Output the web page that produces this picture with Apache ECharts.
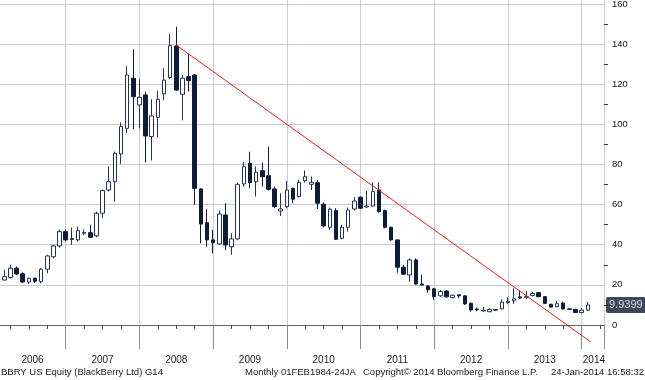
<!DOCTYPE html>
<html>
<head>
<meta charset="utf-8">
<script src="https://cdn.jsdelivr.net/npm/echarts@6/dist/echarts.min.js"></script>
<style>
html,body{margin:0;padding:0;background:#fff;}
#chart{width:645px;height:380px;}
</style>
</head>
<body>
<div id="chart"></div>
<script>
// Monthly candles [open, high, low, close]; 2006 starts in February
const firstYear = 2006;
const firstMonth2006 = 2;
const ohlc2006 = [
  [22.4,27.5,22.2,24.1],[23.6,30.0,23.2,28.3],[28.3,29.2,25.0,25.4],[25.5,26.3,21.0,21.4],
  [21.4,23.5,20.4,23.3],[23.3,23.5,21.0,21.8],[21.6,28.3,20.7,27.8],[27.8,35.0,25.8,34.4],
  [34.0,40.0,33.2,39.4],[39.4,47.5,38.5,46.5],[46.5,47.5,41.5,42.4]
];
const ohlc2007 = [
  [42.6,48.5,40.0,43.1],[42.4,49.0,41.5,47.0],[45.7,47.7,44.9,46.1],[46.0,50.0,43.4,43.7],
  [44.4,56.5,43.7,55.7],[55.7,67.5,53.2,67.0],[67.3,79.0,66.5,71.4],[71.4,86.4,61.5,85.6],
  [85.2,101.0,80.3,98.9],[98.0,129.0,95.6,124.6],[123.0,137.4,97.6,113.8],[109.7,122.5,98.0,113.5]
];
const ohlc2008 = [
  [114.7,116.3,81.0,94.2],[93.9,112.5,82.0,104.2],[103.5,116.8,93.6,112.5],[115.2,128.0,112.0,122.1],
  [123.3,145.0,122.5,139.2],[139.1,148.7,116.8,117.1],[115.0,124.6,102.0,123.0],[123.8,135.4,116.3,121.8],
  [124.6,125.1,59.8,68.1],[67.8,68.2,40.7,50.3],[51.0,57.7,39.0,42.4],[42.4,47.4,35.7,41.0]
];
const ohlc2009 = [
  [40.4,57.0,39.9,55.3],[54.8,60.7,37.4,39.9],[39.0,45.7,35.0,42.9],[42.9,71.0,42.4,70.1],
  [70.3,81.4,68.9,78.9],[80.6,86.4,68.1,71.0],[71.4,79.0,64.0,76.1],[76.9,81.0,69.0,73.9],
  [74.4,88.9,67.0,67.6],[67.8,68.9,58.2,59.0],[56.8,65.7,54.3,57.8],[59.0,71.8,58.2,67.3]
];
const ohlc2010 = [
  [68.1,68.5,60.7,62.7],[64.0,72.3,63.5,71.1],[71.9,77.0,71.0,73.9],[70.1,74.0,67.3,71.1],
  [70.9,72.3,57.8,60.7],[60.2,61.0,48.7,49.4],[48.7,58.5,47.4,57.7],[57.0,58.2,42.5,42.7],
  [43.2,50.0,42.7,48.7],[48.7,58.5,46.5,57.3],[57.8,63.7,57.0,61.8],[63.7,64.0,57.8,58.2]
];
const ohlc2011 = [
  [58.8,66.8,58.5,59.3],[59.3,71.0,59.0,66.5],[67.3,71.0,56.0,56.5],[57.0,57.5,48.2,48.7],
  [48.7,49.0,42.0,42.4],[42.4,42.7,26.0,28.8],[28.8,30.0,25.0,25.3],[24.9,33.2,21.6,32.4],
  [32.4,33.2,20.0,20.4],[20.4,25.0,19.6,19.9],[19.4,19.8,16.1,17.5],[18.0,18.5,12.5,14.1]
];
const ohlc2012 = [
  [14.5,17.4,14.0,16.6],[16.9,17.4,13.6,14.0],[13.6,15.1,13.3,14.8],[15.0,15.2,13.3,14.5],
  [14.5,14.8,10.0,10.5],[10.8,11.2,6.6,7.5],[7.9,8.8,6.8,7.6],[7.0,9.0,6.7,7.3],
  [6.6,8.2,6.3,7.7],[7.6,7.9,7.1,7.4],[8.0,12.8,7.8,11.4],[11.2,13.8,10.3,11.9]
];
const ohlc2013 = [
  [12.0,18.3,10.5,13.0],[14.0,17.3,13.0,13.4],[13.6,17.0,13.0,14.1],[14.6,16.6,14.3,15.7],
  [16.1,16.4,13.8,14.1],[14.1,14.3,10.4,10.8],[10.3,10.6,8.6,8.9],[9.1,12.0,8.8,10.6],
  [10.9,11.6,7.7,8.0],[8.0,8.3,7.4,7.8],[7.8,8.0,5.9,6.2],[6.2,8.5,5.8,7.4]
];
const ohlc2014 = [
  [7.4,11.4,7.0,9.9399]
];
const lastPrice = 9.9399;
// trend line endpoints: [month index, price]
const trendLine = [[30, 139.5], [97.5, -8.5]];
const yearLabels = ['2006','2007','2008','2009','2010','2011','2012','2013','2014'];
const yearLabelPos = [6.6, 18, 30, 42, 54, 66, 78, 90, 98];
const yMajorTicks = [0,20,40,60,80,100,120,140,160];
const yMinorTicks = [10,30,50,70,90,110,130,150];
const footer = ['BBRY US Equity (BlackBerry Ltd) G14','Monthly 01FEB1984-24JA','Copyright\u00A9 2014 Bloomberg Finance L.P.','24-Jan-2014 16:58:32'];

const years = [ohlc2006, ohlc2007, ohlc2008, ohlc2009, ohlc2010, ohlc2011, ohlc2012, ohlc2013, ohlc2014];
const candles = [];
years.forEach((arr, yi) => {
  const start = yi === 0 ? firstMonth2006 : 1;
  arr.forEach((d, i) => {
    const x = yi * 12 + start + i; // month index, Jan 2006 = 1
    candles.push([x, d[0], d[3], d[2], d[1]]); // x, open, close, low, high
  });
});

const FONT = 'Liberation Sans, Arial, sans-serif';
const chart = echarts.init(document.getElementById('chart'), null, {renderer: 'canvas'});
const GRID_LINE = {show: true, lineStyle: {color: '#cbcbcb', type: 'solid', width: 1}};

chart.setOption({
  backgroundColor: '#ffffff',
  animation: false,
  grid: {left: -8, right: 41, top: 0, bottom: 38, outerBoundsMode: 'none', containLabel: false},
  title: [
    {text: footer[0], left: 1, top: 367, padding: 0, textStyle: {fontSize: 9.5, fontWeight: 'normal', color: '#1a1a1a', fontFamily: FONT}},
    {text: footer[1], left: 245, top: 367, padding: 0, textStyle: {fontSize: 9.5, fontWeight: 'normal', color: '#1a1a1a', fontFamily: FONT}},
    {text: footer[2], left: 363, top: 367, padding: 0, textStyle: {fontSize: 9.5, fontWeight: 'normal', color: '#1a1a1a', fontFamily: FONT}},
    {text: footer[3], right: 1, top: 367, padding: 0, textStyle: {fontSize: 9.5, fontWeight: 'normal', color: '#1a1a1a', fontFamily: FONT}}
  ],
  xAxis: {
    type: 'value', min: 0, max: 99.64, interval: 12,
    axisLine: {show: true, lineStyle: {color: '#666', width: 1}},
    axisTick: {show: true, length: 24, lineStyle: {color: '#8a8a8a', width: 1}},
    minorTick: {show: true, splitNumber: 4, length: 4, lineStyle: {color: '#444', width: 1}},
    splitLine: GRID_LINE,
    minorSplitLine: {show: false},
    axisLabel: {
      customValues: yearLabelPos,
      margin: 13, fontSize: 10, color: '#222', fontFamily: FONT,
      formatter: v => yearLabels[yearLabelPos.indexOf(v)] || ''
    }
  },
  yAxis: [
    {
      type: 'value', position: 'right', min: -8.5, max: 162,
      axisLine: {show: true, lineStyle: {color: '#555', width: 2}},
      axisTick: {show: true, customValues: yMajorTicks, length: 5, lineStyle: {color: '#111', width: 2}},
      axisLabel: {customValues: yMajorTicks, margin: 8, fontSize: 9.5, color: '#111', fontFamily: FONT},
      splitLine: GRID_LINE
    },
    {
      type: 'value', position: 'right', min: -8.5, max: 162,
      axisLine: {show: false},
      axisTick: {show: true, customValues: yMinorTicks, length: 4, lineStyle: {color: '#333', width: 1}},
      axisLabel: {show: false},
      splitLine: {show: false}
    }
  ],
  series: [
    {
      type: 'candlestick',
      data: candles,
      encode: {x: 0, y: [1, 2, 3, 4]},
      barWidth: 4,
      z: 3,
      itemStyle: {
        color: '#ffffff', color0: '#0e1c38',
        borderColor: '#24344f', borderColor0: '#0e1c38', borderWidth: 1
      }
    },
    {
      type: 'line',
      data: trendLine,
      symbol: 'none',
      clip: false,
      lineStyle: {color: '#d8231e', width: 1},
      z: 5
    },
    {
      type: 'scatter',
      data: [[99.64, lastPrice]],
      symbolSize: 0,
      clip: false,
      silent: true,
      z: 10,
      label: {
        show: true, position: 'right', distance: 2,
        formatter: p => String(p.value[1]),
        backgroundColor: '#0c1a33', color: '#ffffff',
        fontSize: 11, fontFamily: FONT, padding: [3, 3, 2, 3], borderRadius: 2
      }
    }
  ]
});
</script>
</body>
</html>
